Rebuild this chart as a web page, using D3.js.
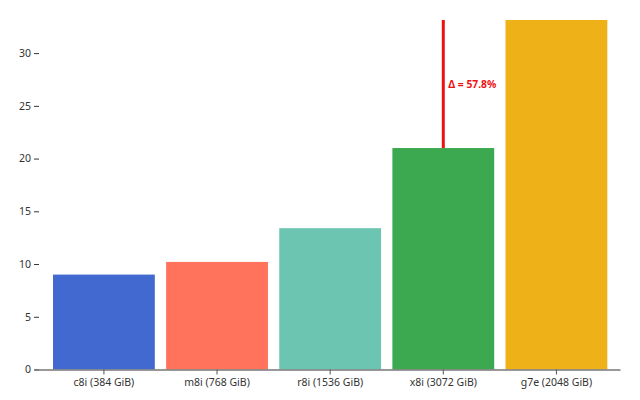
<!DOCTYPE html>
<html>
<head>
<meta charset="utf-8">
<script src="https://cdn.jsdelivr.net/npm/d3@7"></script>
<style>
  body { margin: 0; background: #fff; }
  svg text { font-family: "Noto Sans", sans-serif; }
</style>
</head>
<body>
<svg class="chart"></svg>
<script>
// chart data
var instances = ["c8i (384 GiB)", "m8i (768 GiB)", "r8i (1536 GiB)", "x8i (3072 GiB)", "g7e (2048 GiB)"];
var values = [9.0, 10.2, 13.4, 21.0, 33.14];
var colors = ["#4269d0", "#ff725c", "#6cc5b0", "#3ca951", "#efb118"];
var yTicks = [0, 5, 10, 15, 20, 25, 30];
var deltaFrom = "x8i (3072 GiB)", deltaTo = "g7e (2048 GiB)";

var width = 640, height = 400;

var svg = d3.select(".chart")
    .attr("width", width)
    .attr("height", height);

var x = d3.scaleBand()
    .domain(instances)
    .range([34, 620])
    .paddingInner(0.1)
    .paddingOuter(0.14)
    .align(0.6);

var y = d3.scaleLinear()
    .domain([0, d3.max(values)])
    .range([369.5, 20]);

// bars
svg.append("g").selectAll("rect")
    .data(instances)
    .enter().append("rect")
    .attr("x", function(d) { return x(d); })
    .attr("y", function(d, i) { return y(values[i]); })
    .attr("width", x.bandwidth())
    .attr("height", function(d, i) { return y(0) - y(values[i]); })
    .attr("fill", function(d, i) { return colors[i]; });

// y axis (no spine)
var yAxis = svg.append("g")
    .attr("transform", "translate(39,0)")
    .call(d3.axisLeft(y).tickValues(yTicks).tickSize(5).tickPadding(3));
yAxis.select(".domain").remove();
yAxis.selectAll(".tick line").attr("stroke", "#333");
yAxis.selectAll(".tick text").attr("fill", "#333").style("font-size", "10.5px");

// x axis
var xAxis = svg.append("g")
    .attr("transform", "translate(0," + y(0) + ")")
    .call(d3.axisBottom(x).tickSize(5).tickPadding(4).tickSizeOuter(0));
xAxis.select(".domain").attr("stroke", "#777").attr("stroke-width", 1.5);
xAxis.selectAll(".tick line").attr("stroke", "#555");
xAxis.selectAll(".tick text").attr("fill", "#333").style("font-size", "10.5px");

// delta annotation
var vFrom = values[instances.indexOf(deltaFrom)],
    vTo = values[instances.indexOf(deltaTo)];
var lx = x(deltaFrom) + x.bandwidth() / 2;

svg.append("line")
    .attr("x1", lx).attr("x2", lx)
    .attr("y1", y(vFrom)).attr("y2", y(vTo))
    .attr("stroke", "#ee1111")
    .attr("stroke-width", 3);

svg.append("text")
    .attr("x", lx + 5)
    .attr("y", (y(vFrom) + y(vTo)) / 2)
    .attr("dy", "0.35em")
    .attr("fill", "#ee1111")
    .style("font-size", "10.3px")
    .style("font-weight", "bold")
    .text("Δ = " + ((vTo / vFrom - 1) * 100).toFixed(1) + "%");
</script>
</body>
</html>
